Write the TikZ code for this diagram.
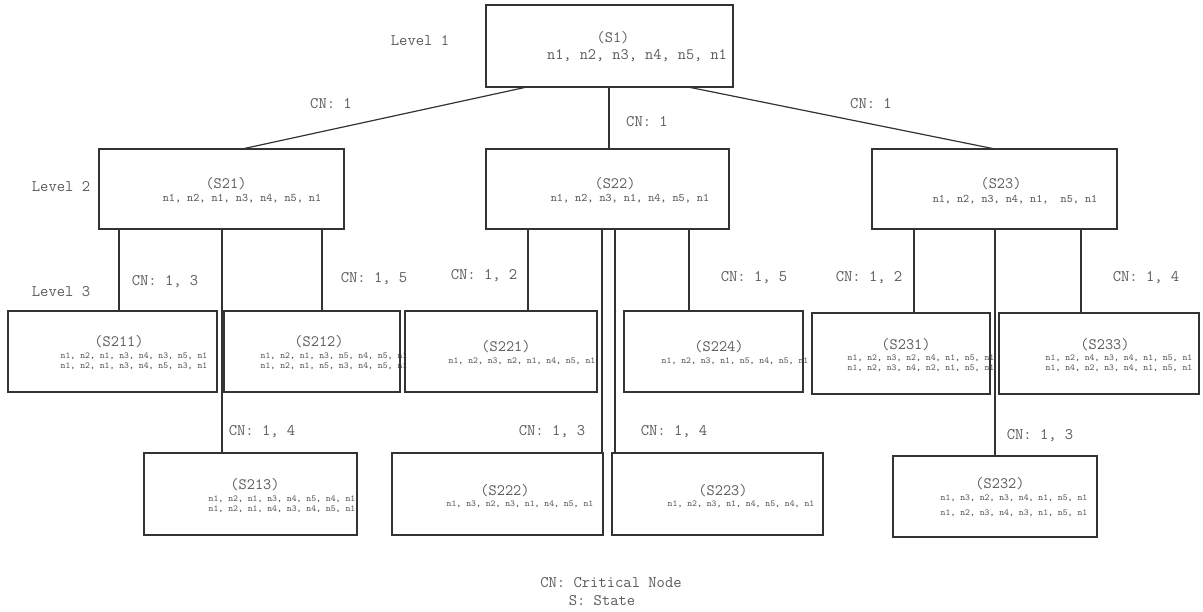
\documentclass[tikz,border=0pt]{standalone}
\usepackage{fontspec}
\definecolor{txt}{HTML}{5A5A5A}
\definecolor{ln}{HTML}{333333}
\tikzset{
  box/.style={draw=ln, line width=0.9pt, inner sep=0pt, outer sep=0pt, rectangle},
  conn/.style={draw=ln, line width=0.9pt},
  lbl/.style={text=txt, inner sep=0pt, font=\ttfamily\fontsize{12.1}{14}\selectfont},
  sname/.style={text=txt, inner sep=0pt, font=\ttfamily\fontsize{11.9}{14}\selectfont},
  lone/.style={text=txt, inner sep=0pt, font=\ttfamily\fontsize{11.9}{14}\selectfont},
  ltwo/.style={text=txt, inner sep=0pt, font=\ttfamily\fontsize{8.7}{10}\selectfont},
  lthree/.style={text=txt, inner sep=0pt, font=\ttfamily\fontsize{6.9}{8}\selectfont},
}
\newcommand\stbox[5]{\node[box, minimum width=#4*0.75pt, minimum height=#5*0.75pt] (#1) at (#2,#3) {};}
\begin{document}
\begin{tikzpicture}[x=0.75pt, y=-0.75pt]
\useasboundingbox (0,0) rectangle (1203,611);
% texts
\node[lbl] (lev1) at (420,41) {Level 1};
\node[lbl] (lev2) at (61,187) {Level 2};
\node[lbl] (lev3) at (61,292) {Level 3};

\node[sname] (t1) at (613,38) {(S1)};
\node[lone] (t1a) at (637,56) {n1, n2, n3, n4, n5, n1};

\node[sname] (t21) at (226,184) {(S21)};
\node[ltwo] (t21a) at (242,199) {n1, n2, n1, n3, n4, n5, n1};
\node[sname] (t22) at (615,184) {(S22)};
\node[ltwo] (t22a) at (630,199) {n1, n2, n3, n1, n4, n5, n1};
\node[sname] (t23) at (1001,184) {(S23)};
\node[ltwo] (t23a) at (1015,200) {n1, n2, n3, n4, n1,\ \ n5, n1};

\node[sname] (t211) at (119,342) {(S211)};
\node[lthree] (t211a) at (134,356) {n1, n2, n1, n3, n4, n3, n5, n1};
\node[lthree] (t211b) at (134,366) {n1, n2, n1, n3, n4, n5, n3, n1};
\node[sname] (t212) at (319,342) {(S212)};
\node[lthree] (t212a) at (334,356) {n1, n2, n1, n3, n5, n4, n5, n1};
\node[lthree] (t212b) at (334,366) {n1, n2, n1, n5, n3, n4, n5, n1};
\node[sname] (t221) at (506,347) {(S221)};
\node[lthree] (t221a) at (522,361) {n1, n2, n3, n2, n1, n4, n5, n1};
\node[sname] (t224) at (719,347) {(S224)};
\node[lthree] (t224a) at (735,361) {n1, n2, n3, n1, n5, n4, n5, n1};
\node[sname] (t231) at (906,345) {(S231)};
\node[lthree] (t231a) at (921,358) {n1, n2, n3, n2, n4, n1, n5, n1};
\node[lthree] (t231b) at (921,368) {n1, n2, n3, n4, n2, n1, n5, n1};
\node[sname] (t233) at (1105,345) {(S233)};
\node[lthree] (t233a) at (1119,358) {n1, n2, n4, n3, n4, n1, n5, n1};
\node[lthree] (t233b) at (1119,368) {n1, n4, n2, n3, n4, n1, n5, n1};

\node[sname] (t213) at (255,485) {(S213)};
\node[lthree] (t213a) at (282,499) {n1, n2, n1, n3, n4, n5, n4, n1};
\node[lthree] (t213b) at (282,509) {n1, n2, n1, n4, n3, n4, n5, n1};
\node[sname] (t222) at (505,491) {(S222)};
\node[lthree] (t222a) at (520,504) {n1, n3, n2, n3, n1, n4, n5, n1};
\node[sname] (t223) at (723,491) {(S223)};
\node[lthree] (t223a) at (741,504) {n1, n2, n3, n1, n4, n5, n4, n1};
\node[sname] (t232) at (1000,484) {(S232)};
\node[lthree] (t232a) at (1014,498) {n1, n3, n2, n3, n4, n1, n5, n1};
\node[lthree] (t232b) at (1014,513) {n1, n2, n3, n4, n3, n1, n5, n1};

% boxes
\stbox{s1}{609.5}{46}{247}{82}
\stbox{s21}{221.5}{189}{245}{80}
\stbox{s22}{607.5}{189}{243}{80}
\stbox{s23}{994.5}{189}{245}{80}
\stbox{s211}{112.5}{351.5}{209}{81}
\stbox{s212}{312}{351.5}{176}{81}
\stbox{s221}{501}{351.5}{192}{81}
\stbox{s224}{713.5}{351.5}{179}{81}
\stbox{s231}{901}{353.5}{178}{81}
\stbox{s233}{1099}{353.5}{200}{81}
\stbox{s213}{250.5}{494}{213}{82}
\stbox{s222}{497.5}{494}{211}{82}
\stbox{s223}{717.5}{494}{211}{82}
\stbox{s232}{995}{496.5}{204}{81}

% connectors
\draw[conn] (s1.south -| 527,0) -- (s21.north -| 242,0);
\draw[conn] (s1.south -| 609,0) -- (s22.north -| 609,0);
\draw[conn] (s1.south -| 688,0) -- (s23.north -| 995,0);
\draw[conn] (s21.south -| 119,0) -- (s211.north -| 119,0);
\draw[conn] (s21.south -| 222,0) -- (s213.north -| 222,0);
\draw[conn] (s21.south -| 322,0) -- (s212.north -| 322,0);
\draw[conn] (s22.south -| 528,0) -- (s221.north -| 528,0);
\draw[conn] (s22.south -| 602,0) -- (s222.north -| 602,0);
\draw[conn] (s22.south -| 615,0) -- (s223.north -| 615,0);
\draw[conn] (s22.south -| 689,0) -- (s224.north -| 689,0);
\draw[conn] (s23.south -| 914,0) -- (s231.north -| 914,0);
\draw[conn] (s23.south -| 995,0) -- (s232.north -| 995,0);
\draw[conn] (s23.south -| 1081,0) -- (s233.north -| 1081,0);

% CN labels
\node[lbl] (c1) at (331,104) {CN: 1};
\node[lbl] (c2) at (647,122) {CN: 1};
\node[lbl] (c3) at (871,104) {CN: 1};
\node[lbl] (c211) at (165,282) {CN: 1, 3};
\node[lbl] (c212) at (374,279) {CN: 1, 5};
\node[lbl] (c221) at (484,276) {CN: 1, 2};
\node[lbl] (c224) at (754,278) {CN: 1, 5};
\node[lbl] (c231) at (869,278) {CN: 1, 2};
\node[lbl] (c233) at (1146,278) {CN: 1, 4};
\node[lbl] (c213) at (262,432) {CN: 1, 4};
\node[lbl] (c222) at (552,432) {CN: 1, 3};
\node[lbl] (c223) at (674,432) {CN: 1, 4};
\node[lbl] (c232) at (1040,436) {CN: 1, 3};

% legend
\node[lbl] (leg1) at (611,583) {CN: Critical Node};
\node[lbl] (leg2) at (602,601) {S: State};
\end{tikzpicture}
\end{document}
